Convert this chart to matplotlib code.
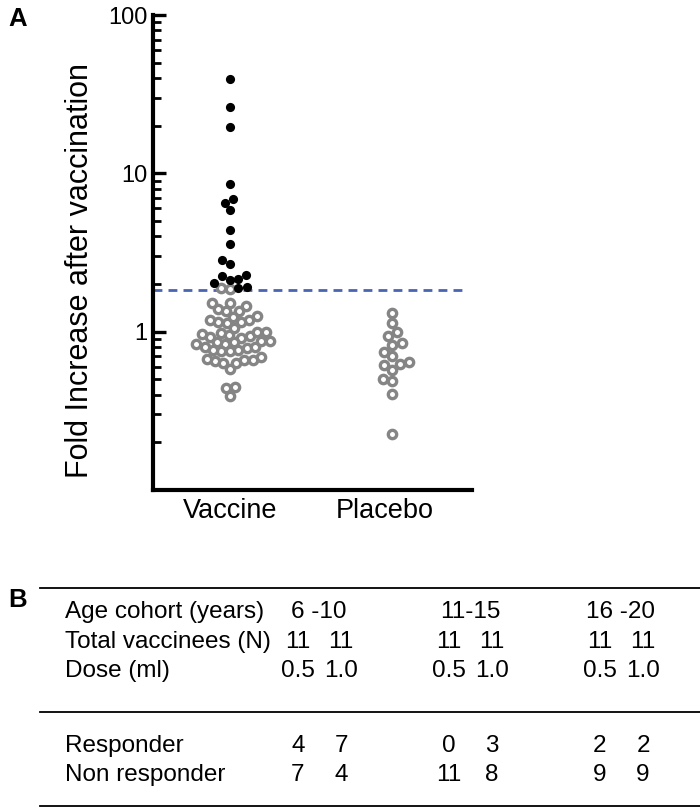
import numpy as np
import matplotlib
matplotlib.use("Agg")
import matplotlib.pyplot as plt
from matplotlib.lines import Line2D

plt.rcParams['font.family'] = ['Liberation Sans', 'DejaVu Sans']

# ---------------- data ----------------
groups = ["Vaccine", "Placebo"]
threshold = 1.82

vaccine_responders = [39.2, 26.2, 19.5, 8.55, 6.85, 6.53, 5.89, 4.36, 3.57, 2.84,
                      2.67, 2.28, 2.24, 2.16, 2.13, 2.03, 1.92, 1.90]
vaccine_nonresponders = [1.89, 1.87,
                         1.52, 1.45, 1.36, 1.36, 1.40, 1.52,
                         1.26, 1.19, 1.145, 1.135, 1.145, 1.19, 1.245,
                         1.0, 0.98, 0.953, 0.926, 0.916, 0.934, 0.962, 0.99, 1.06,
                         0.873, 0.856, 0.836, 0.80, 0.784, 0.80, 0.836, 0.864, 0.873,
                         0.765, 0.75, 0.75, 0.765,
                         0.691, 0.665, 0.652, 0.634, 0.581, 0.634, 0.658, 0.672,
                         0.447, 0.390, 0.438]
placebo = [1.31, 1.135, 0.99, 0.934, 0.824, 0.848, 0.747, 0.705, 0.621, 0.615,
           0.569, 0.646, 0.506, 0.488, 0.405, 0.226]

ytick_vals = [1, 10, 100]
ytick_labels = ["1", "10", "100"]
ylabel = "Fold Increase after vaccination"

row_labels_top = ["Age cohort (years)", "Total vaccinees (N)", "Dose (ml)"]
cohorts = ["6 -10", "11-15", "16 -20"]
n_vaccinees = [11, 11, 11, 11, 11, 11]
doses = ["0.5", "1.0", "0.5", "1.0", "0.5", "1.0"]
row_labels_bottom = ["Responder", "Non responder"]
responders = [4, 7, 0, 3, 2, 2]
nonresponders = [7, 4, 11, 8, 9, 9]

# ---------------- figure ----------------
W, H = 700, 810
fig = plt.figure(figsize=(W / 100, H / 100), dpi=100)

ax_l, ax_r, ax_t, ax_b = 153, 472, 15, 490
ax = fig.add_axes([ax_l / W, 1 - ax_b / H, (ax_r - ax_l) / W, (ax_b - ax_t) / H])
ax.set_yscale('log')
ax.set_ylim(0.1, 100)
ax.set_xlim(0.505, 2.565)

GRAY = '#858585'
BLUE = '#4a64b4'


def swarm_offsets(values, xc, d):
    """Simple beeswarm in display space; returns data x positions."""
    pts = ax.transData.transform(np.column_stack([np.full(len(values), xc),
                                                  np.asarray(values, float)]))
    ys = pts[:, 1]
    x0 = pts[0, 0]
    order = np.argsort(ys)
    placed = []
    xs = np.zeros(len(values))
    for i in order:
        y = ys[i]
        cands = [0.0]
        for (px, py) in placed:
            dy = y - py
            if abs(dy) < d:
                dx = np.sqrt(d * d - dy * dy)
                cands += [px + dx, px - dx]
        cands = sorted(cands, key=lambda c: (abs(c), c))
        for c in cands:
            if all((c - px) ** 2 + (y - py) ** 2 >= d * d - 1e-6 for px, py in placed):
                xs[i] = c
                placed.append((c, y))
                break
    disp = np.column_stack([x0 + xs, ys])
    return ax.transData.inverted().transform(disp)[:, 0]


vac_all = vaccine_responders + vaccine_nonresponders
vx = swarm_offsets(vac_all, 1, 8.6)
nr = len(vaccine_responders)
px = swarm_offsets(placebo, 2.05, 9.5)

ax.axhline(threshold, xmin=0, xmax=(465 - ax_l) / (ax_r - ax_l), color=BLUE,
           lw=2.0, ls=(0, (3.2, 2.2)), zorder=1)

ms_gray = 6.0
ax.plot(vx[nr:], vaccine_nonresponders, 'o', ms=ms_gray, mfc='white', mec=GRAY,
        mew=2.4, ls='none', zorder=2)
ax.plot(px, placebo, 'o', ms=ms_gray, mfc='white', mec=GRAY, mew=2.4,
        ls='none', zorder=2)
ax.plot(vx[:nr], vaccine_responders, 'o', ms=6.6, mfc='black', mec='black',
        mew=0, ls='none', zorder=3)

ax.set_xticks([1, 2])
ax.set_xticklabels(groups, fontsize=19.5)
ax.tick_params(axis='x', length=0, pad=6)
ax.set_yticks(ytick_vals)
ax.set_yticklabels(ytick_labels, fontsize=17)
ax.yaxis.set_minor_locator(matplotlib.ticker.LogLocator(base=10, subs=np.arange(2, 10)))
ax.yaxis.set_minor_formatter(matplotlib.ticker.NullFormatter())
ax.tick_params(axis='y', which='major', direction='in', length=9, width=2.4, pad=4)
ax.tick_params(axis='y', which='minor', direction='in', length=5.5, width=2.0)
for s in ['top', 'right']:
    ax.spines[s].set_visible(False)
for s in ['left', 'bottom']:
    ax.spines[s].set_linewidth(3.0)
    ax.spines[s].set_capstyle('projecting')
ax.set_ylabel(ylabel, fontsize=22)
ax.yaxis.set_label_coords(-(ax_l - 95) / (ax_r - ax_l), (ax_b - 270) / (ax_b - ax_t))

fig.text(8 / W, 1 - 19 / H, "A", fontsize=18.5, fontweight='bold', ha='left', va='center')
fig.text(8 / W, 1 - 600 / H, "B", fontsize=18.5, fontweight='bold', ha='left', va='center')

# ---------------- table ----------------
def fy(y):
    return 1 - y / H


def fx(x):
    return x / W


for yl in [588, 712, 806]:
    fig.add_artist(Line2D([fx(40), fx(700)], [fy(yl), fy(yl)], color='black', lw=1.3))

label_x = 65
col_x = [298, 341, 449, 492, 600, 643]
grp_x = [319, 470, 621]
rows_top_y = [612, 642, 671]
rows_bot_y = [746, 775]
fs_tab = 17.5

for lab, y in zip(row_labels_top, rows_top_y):
    fig.text(fx(label_x), fy(y), lab, fontsize=fs_tab, ha='left', va='center')
for g, x in zip(cohorts, grp_x):
    fig.text(fx(x), fy(rows_top_y[0]), g, fontsize=fs_tab, ha='center', va='center')
for n, x in zip(n_vaccinees, col_x):
    fig.text(fx(x), fy(rows_top_y[1]), str(n), fontsize=fs_tab, ha='center', va='center')
for d, x in zip(doses, col_x):
    fig.text(fx(x), fy(rows_top_y[2]), d, fontsize=fs_tab, ha='center', va='center')
for lab, y in zip(row_labels_bottom, rows_bot_y):
    fig.text(fx(label_x), fy(y), lab, fontsize=fs_tab, ha='left', va='center')
for v, x in zip(responders, col_x):
    fig.text(fx(x), fy(rows_bot_y[0]), str(v), fontsize=fs_tab, ha='center', va='center')
for v, x in zip(nonresponders, col_x):
    fig.text(fx(x), fy(rows_bot_y[1]), str(v), fontsize=fs_tab, ha='center', va='center')

fig.savefig("out.png", dpi=100)
